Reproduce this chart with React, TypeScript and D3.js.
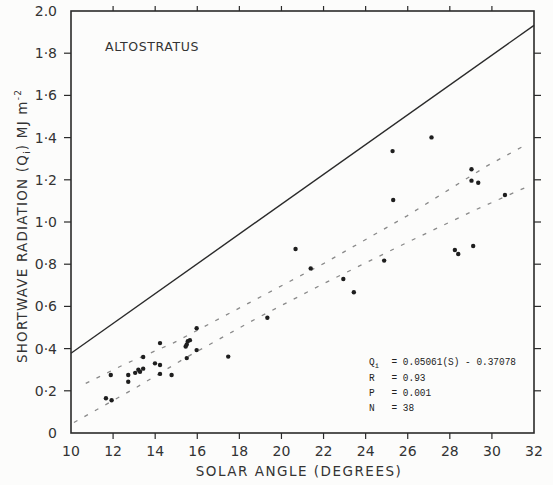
import React from "react";
import * as d3 from "d3";

const solarAngle = [11.66, 11.93, 11.89, 12.72, 12.72, 13.05, 13.2, 13.28, 13.43, 13.43, 13.99, 14.23, 14.23, 14.23, 14.78, 15.45, 15.5, 15.55, 15.65, 15.5, 15.97, 15.97, 17.47, 19.33, 20.67, 21.39, 22.94, 23.44, 24.88, 25.28, 25.31, 27.13, 28.24, 28.4, 29.11, 29.03, 29.03, 29.35, 30.62];
const radiation = [0.165, 0.155, 0.275, 0.275, 0.243, 0.285, 0.3, 0.29, 0.305, 0.36, 0.33, 0.322, 0.28, 0.426, 0.275, 0.41, 0.42, 0.435, 0.44, 0.355, 0.497, 0.393, 0.362, 0.546, 0.872, 0.78, 0.73, 0.667, 0.817, 1.336, 1.104, 1.401, 0.867, 0.848, 0.886, 1.25, 1.196, 1.186, 1.128];

const solidX = [10, 32];
const solidY = [0.378, 1.932];

const upperX = [10.7, 12.57, 14.85, 18.66, 22.02, 25.95, 29.75, 31.6];
const upperY = [0.235, 0.327, 0.426, 0.627, 0.804, 1.028, 1.265, 1.365];

const lowerX = [10.14, 13.14, 15.42, 18.74, 22.02, 25.95, 29.27, 31.7];
const lowerY = [0.05, 0.218, 0.355, 0.539, 0.709, 0.902, 1.06, 1.168];

const xTicks = [10, 12, 14, 16, 18, 20, 22, 24, 26, 28, 30, 32];
const yTicks = [0, 0.2, 0.4, 0.6, 0.8, 1.0, 1.2, 1.4, 1.6, 1.8, 2.0];
const yTickLabels = ["0", "0·2", "0·4", "0·6", "0·8", "1·0", "1·2", "1·4", "1·6", "1·8", "2.0"];

const statLabels = ["R", "P", "N"];
const statValues = ["0.93", "0.001", "38"];

export default function App() {
  const W = 553, H = 485;
  const x = d3.scaleLinear().domain([10, 32]).range([71, 534]);
  const y = d3.scaleLinear().domain([0, 2]).range([433, 11]);
  const line = d3.line<[number, number]>().x(d => x(d[0])).y(d => y(d[1]));
  const solid = line(solidX.map((v, i) => [v, solidY[i]] as [number, number]))!;
  const upper = line(upperX.map((v, i) => [v, upperY[i]] as [number, number]))!;
  const lower = line(lowerX.map((v, i) => [v, lowerY[i]] as [number, number]))!;
  const ink = "#2a2a2a";
  const font = "'DejaVu Sans', sans-serif";
  const mono = "'Liberation Mono', 'DejaVu Sans Mono', monospace";
  const [x0, x1] = x.range();
  const [yb, yt] = y.range();

  return (
    <svg width={W} height={H} style={{ position: "absolute", left: 0, top: 0, display: "block", background: "#fcfcfb" }}>
      <rect x={0} y={0} width={W} height={H} fill="#fcfcfb" />
      {/* frame */}
      <rect x={x0} y={yt} width={x1 - x0} height={yb - yt} fill="none" stroke={ink} strokeWidth={1.6} />
      {/* ticks */}
      {xTicks.map(t => (
        <g key={"xt" + t}>
          {t > 10 && t < 32 && <line x1={x(t)} x2={x(t)} y1={yb} y2={yb + 6} stroke={ink} strokeWidth={1.2} />}
          {t > 10 && t < 32 && <line x1={x(t)} x2={x(t)} y1={yt} y2={yt - 5} stroke={ink} strokeWidth={1.2} />}
          <text x={x(t)} y={456} textAnchor="middle" fontFamily={font} fontSize={14} fill="#333">{t}</text>
        </g>
      ))}
      {yTicks.map((t, i) => (
        <g key={"yt" + i}>
          {i > 0 && i < yTicks.length - 1 && <line x1={x0} x2={x0 - 7} y1={y(t)} y2={y(t)} stroke={ink} strokeWidth={1.2} />}
          {i > 0 && i < yTicks.length - 1 && <line x1={x1} x2={x1 + 7} y1={y(t)} y2={y(t)} stroke={ink} strokeWidth={1.2} />}
          <text x={57} y={y(t) + 5} textAnchor="end" fontFamily={font} fontSize={14} fill="#333">{yTickLabels[i]}</text>
        </g>
      ))}
      {/* lines */}
      <path d={solid} fill="none" stroke={ink} strokeWidth={1.4} />
      <path d={upper} fill="none" stroke="#8a8a8a" strokeWidth={1.3} strokeDasharray="4,8" />
      <path d={lower} fill="none" stroke="#8a8a8a" strokeWidth={1.3} strokeDasharray="4,8" />
      {/* points */}
      {solarAngle.map((s, i) => (
        <circle key={"p" + i} cx={x(s)} cy={y(radiation[i])} r={2.2} fill="#1e1e1e" />
      ))}
      {/* labels */}
      <text x={105} y={51} fontFamily={font} fontSize={12.5} fill="#333" letterSpacing={0.6}>ALTOSTRATUS</text>
      <text x={299} y={476} textAnchor="middle" fontFamily={font} fontSize={13.5} fill="#333" letterSpacing={1.5}>SOLAR ANGLE (DEGREES)</text>
      <text transform="translate(27,226) rotate(-90)" textAnchor="middle" fontFamily={font} fontSize={13.5} fill="#333" letterSpacing={1.2}>
        SHORTWAVE RADIATION (Q<tspan fontSize={9} dy={3}>i</tspan><tspan dy={-3}>) MJ m</tspan><tspan fontSize={9} dy={-6}>-2</tspan>
      </text>
      {/* stats */}
      <g transform="translate(369,0) scale(0.9,1) translate(-369,0)">
        <text x={369} y={365} fontFamily={mono} fontSize={10.5} fill="#222">
          Q<tspan fontSize={8} dy={3}>i</tspan><tspan dy={-3} x={394}>= 0.05061(S) - 0.37078</tspan>
        </text>
        {statLabels.map((l, i) => (
          <text key={l} x={369} y={381 + i * 15} fontFamily={mono} fontSize={10.5} fill="#222">
            {l}<tspan x={394}>= {statValues[i]}</tspan>
          </text>
        ))}
      </g>
    </svg>
  );
}
